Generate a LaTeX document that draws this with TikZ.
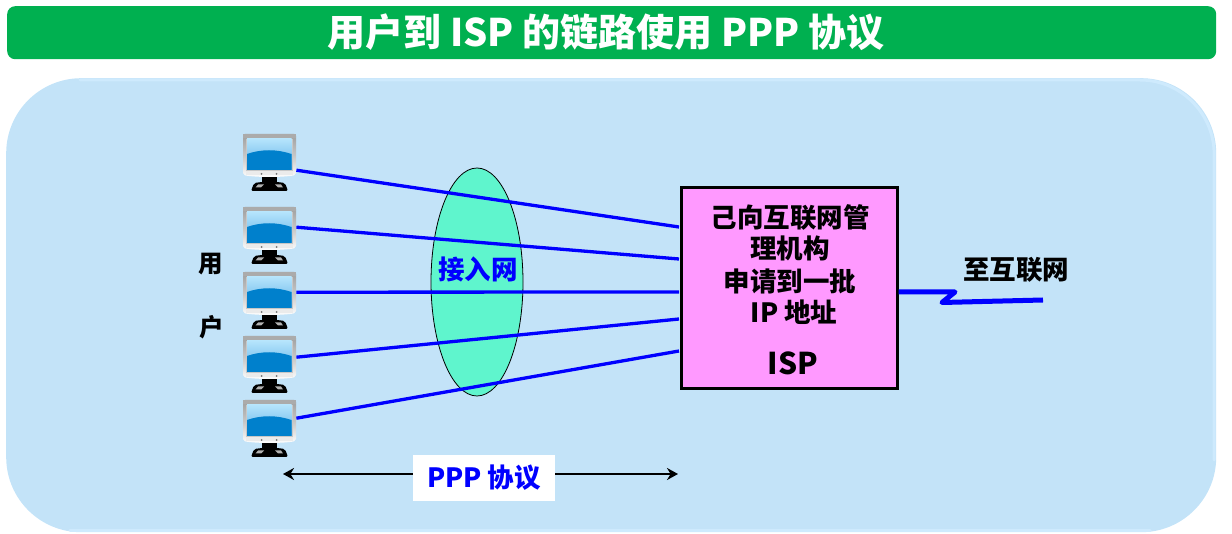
\documentclass[tikz,border=0pt]{standalone}
\usepackage{fontspec}
\setmainfont{Noto Sans CJK SC}
\usetikzlibrary{arrows.meta,calc}
\definecolor{tgreen}{HTML}{00B050}
\definecolor{bgblue}{HTML}{C3E3F8}
\definecolor{bgedge}{HTML}{CEEAFD}
\definecolor{teal2}{HTML}{5FF5CD}
\definecolor{pinkbox}{HTML}{FF99FF}
\definecolor{linkblue}{HTML}{0000FF}
\definecolor{scrlight}{HTML}{B5E4FC}
\definecolor{scrmid}{HTML}{5FB0E6}
\definecolor{scrdark}{HTML}{0080CC}
\tikzset{
  x=1pt,y=-1pt,
  lbl/.style={font=\fontsize{26.5}{30}\selectfont\bfseries,inner sep=0pt,text=black},
  link/.style={draw=linkblue,line width=3.3pt},
  pcbox/.style={minimum width=53pt,minimum height=58pt,inner sep=0pt,draw=none},
  pics/pcicon/.style={code={
    \shade[top color=black!38!white,bottom color=white,middle color=black!22!white,rounded corners=2pt] (0,0) -- (53,0) -- (53,41) .. controls (40,43.5) and (13,43.5) .. (0,41) -- cycle;
    \fill[black!33!white] (0,0) rectangle (53,4);
    \fill[white!92!black] (3,34) rectangle (50,41.5);
    \fill[white!78!black] (2.8,5) rectangle (50.2,37);
    \shade[top color=scrlight,bottom color=scrmid] (4,5) rectangle (48.5,36);
    \fill[scrdark] (4,36) -- (4,20) .. controls (18,15) and (34,15) .. (48.5,20) -- (48.5,36) -- cycle;
    \fill[black!55!white] (18.5,40) circle (1) (33.5,40) circle (1);
    \fill[black] (19,43) rectangle (34,49);
    \fill[black,rounded corners=2pt] (11,49) -- (19,48) -- (34,48) -- (42,49) -- (45,57) -- (8,57) -- cycle;
    \fill[white!70!black] (15,50.5) -- (21,50.5) -- (18,53.5) -- (12.5,53.5) -- cycle
      (32,50.5) -- (38,50.5) -- (40,53.5) -- (35,53.5) -- cycle;
  }}
}
\begin{document}
\begin{tikzpicture}
\useasboundingbox (0,0) rectangle (1232,534);
% panel
\node[name=panel,anchor=north west,fill=bgblue,rounded corners=75pt,minimum width=1210pt,minimum height=454pt,inner sep=0pt] at (6,78) {};
\draw[bgedge,line width=3pt,line cap=round] (80,80) -- (1140,80) .. controls (1180,80) and (1212,112) .. (1214,150) -- (1214,460);
\draw[bgedge,line width=3pt,line cap=round] (70,530) -- (1150,530);
% title
\node[name=title,anchor=north west,fill=tgreen,rounded corners=8pt,minimum width=1209pt,minimum height=53pt,inner sep=0pt] at (7,6) {};
\node[inner sep=0pt,text=white,font=\fontsize{38}{42}\selectfont\bfseries] (titletext) at (606,32.5) {用户到 ISP 的链路使用 PPP 协议};
% ellipse
\draw[black,fill=teal2,line width=0.8pt] (477,282) ellipse [x radius=46,y radius=114];
\coordinate (ellc) at (478,269);
% ISP
\node[name=isp,anchor=north west,fill=pinkbox,draw=black,line width=3pt,minimum width=216pt,minimum height=201pt,inner sep=0pt] at (679.5,186.5) {};
\node[lbl] (t1) at (790,217) {己向互联网管};
\node[lbl] (t2) at (790,248) {理机构};
\node[lbl] (t3) at (790,281) {申请到一批};
\node[lbl] (t4) at (794,312) {IP 地址};
\node[lbl,font=\fontsize{30}{34}\selectfont\bfseries] (t5) at (793,363) {ISP};
% monitors
\foreach \n/\yy in {1/134,2/207,3/272,4/336,5/400}{
  \pic at (243,\yy) {pcicon};
  \node[pcbox,anchor=north west] (m\n) at (243,\yy) {};
}
% isp ports
\coordinate (p1) at (679,227);
\coordinate (p2) at (679,259);
\coordinate (p3) at (679,292);
\coordinate (p4) at (679,319);
\coordinate (p5) at (679,351);
\draw[link] ([yshift=-7pt]m1.east) -- (p1);
\draw[link] ([yshift=9pt]m2.east) -- (p2);
\draw[link] ([yshift=9pt]m3.east) -- (p3);
\draw[link] ([yshift=8pt]m4.east) -- (p4);
\draw[link] ([yshift=11pt]m5.east) -- (p5);
\node[lbl,text=linkblue] (acc) at (ellc) {接入网};
% labels
\node[lbl,font=\fontsize{24.5}{28}\selectfont\bfseries] (u1) at (211,264) {用};
\node[lbl,font=\fontsize{24.5}{28}\selectfont\bfseries] (u2) at (212,327) {户};
\node[lbl] (net) at (1016,270) {至互联网};
% wan link
\coordinate (wanend) at (1043,300);
\draw[draw=linkblue,line width=5pt,line join=round] (isp.east |- 0,292) -- (955,292) -- (942,302.5) -- (wanend);
% protocol
\coordinate (al) at (283,474);
\coordinate (ar) at (678,474);
\draw[black,line width=2.4pt,{Stealth[length=11pt,width=12pt]}-{Stealth[length=11pt,width=12pt]}] (al) -- (ar);
\node[fill=white,minimum width=142pt,minimum height=46pt,inner sep=0pt,text=linkblue,font=\fontsize{26.5}{30}\selectfont\bfseries] (ppp) at (484,478) {PPP 协议};
\end{tikzpicture}
\end{document}
